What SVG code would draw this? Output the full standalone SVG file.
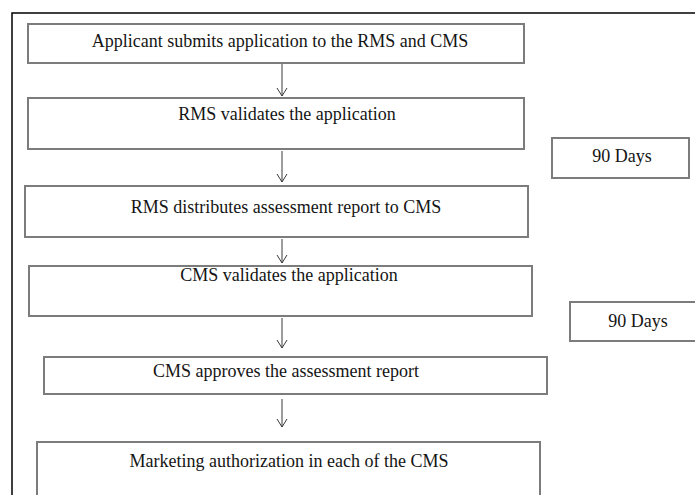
<svg xmlns="http://www.w3.org/2000/svg" width="695" height="495" viewBox="0 0 695 495">
  <defs>
    <!-- open V arrowhead, drawn along +x so orient="auto" turns it with the line -->
    <marker id="vhead" viewBox="0 0 12 12" refX="11" refY="6" markerWidth="12" markerHeight="12" markerUnits="userSpaceOnUse" orient="auto">
      <path d="M3,1 L11,6 L3,11" fill="none" stroke="#3a3a3a" stroke-width="1"/>
    </marker>
  </defs>
  <style>
    .frame { fill: none; stroke: #000; stroke-width: 1.5; }
    .box { fill: #fff; stroke: #7c7c7c; stroke-width: 2; }
    .lbl { font-family: "Liberation Serif", "Times New Roman", serif; font-size: 18px; fill: #151515; text-anchor: middle; }
    .conn { stroke: #3a3a3a; stroke-width: 1; fill: none; marker-end: url(#vhead); }
  </style>
  <rect width="695" height="495" fill="#fff"/>
  <!-- outer frame: top and left edges only within the view -->
  <path class="frame" d="M12,496 L12,13 L696,13"/>

  <g id="connectors">
    <line class="conn" x1="282" y1="64" x2="282" y2="96"/>
    <line class="conn" x1="282" y1="151" x2="282" y2="182"/>
    <line class="conn" x1="282" y1="239" x2="282" y2="263"/>
    <line class="conn" x1="282" y1="318" x2="282" y2="348"/>
    <line class="conn" x1="282" y1="399" x2="282" y2="427"/>
  </g>

  <g id="submit">
    <rect class="box" x="28" y="24" width="496" height="39"/>
    <text class="lbl" x="280" y="47">Applicant submits application to the RMS and CMS</text>
  </g>
  <g id="rms-validate">
    <rect class="box" x="28" y="98" width="496" height="51"/>
    <text class="lbl" x="287" y="120">RMS validates the application</text>
  </g>
  <g id="rms-distribute">
    <rect class="box" x="25" y="186" width="503" height="51"/>
    <text class="lbl" x="286" y="213">RMS distributes assessment report to CMS</text>
  </g>
  <g id="cms-validate">
    <rect class="box" x="29" y="266" width="503" height="50"/>
    <text class="lbl" x="289" y="281">CMS validates the application</text>
  </g>
  <g id="cms-approve">
    <rect class="box" x="44" y="357" width="503" height="37"/>
    <text class="lbl" x="286" y="377">CMS approves the assessment report</text>
  </g>
  <g id="authorization">
    <rect class="box" x="37" y="442" width="503" height="60"/>
    <text class="lbl" x="289" y="467">Marketing authorization in each of the CMS</text>
  </g>
  <g id="days-1">
    <rect class="box" x="552" y="138" width="137" height="40"/>
    <text class="lbl" x="622" y="162">90 Days</text>
  </g>
  <g id="days-2">
    <rect class="box" x="570" y="302" width="130" height="39"/>
    <text class="lbl" x="638" y="327">90 Days</text>
  </g>
</svg>
